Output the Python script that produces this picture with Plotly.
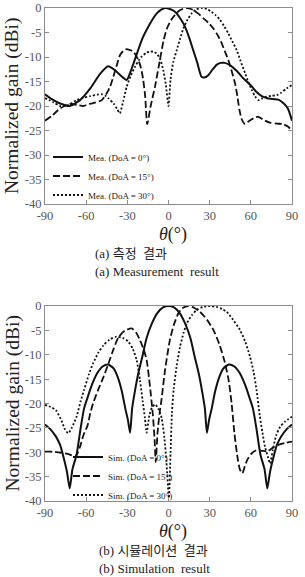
import plotly.graph_objects as go

# ---------------- data ----------------
x_tick_vals = [-90, -60, -30, 0, 30, 60, 90]
x_tick_text = ["-90", "-60", "-30", "0", "30", "60", "90"]
x_minor_top = [-80, -60, -40, -20, 0, 20, 40, 60, 80]
y_tick_vals = [0, -5, -10, -15, -20, -25, -30, -35, -40]
y_tick_text = ["0", "-5", "-10", "-15", "-20", "-25", "-30", "-35", "-40"]

mea0_theta = [-90, -85, -79, -72, -64.5, -57, -50, -44, -39, -34, -30.5, -27, -23, -19, -16, -12, -8.5, -5, -2.5,
              1, 5, 9, 12, 15, 18, 21, 24, 26, 29, 32, 35, 38, 41, 45, 50, 54, 57, 61, 64, 68, 72, 77, 80, 84, 87, 90]
mea0_gain = [-17.6, -18.6, -19.5, -20, -18.8, -16.4, -13.5, -11.9, -12.7, -14, -14.7, -12.5, -9.3, -6.2, -4.5, -2.5, -1.1, -0.3, 0,
             -0.2, -0.8, -2.3, -3.8, -6, -8.6, -11.2, -14, -14.2, -13.7, -12.6, -11.6, -11.2, -11.2, -11.7, -12.9, -14.2, -15, -16.1,
             -17.1, -18, -18.4, -18.6, -18.7, -19.5, -20.5, -23]

mea15_theta = [-90, -85, -79, -72, -66, -62, -58, -54.8, -48.7, -45, -42.5, -40.2, -37.5, -35.3, -33, -30.5, -28, -25.6, -22, -20,
               -18.4, -17, -15.5, -13, -9.8, -6.2, -3.5, -1.3, 2, 4.8, 8, 13, 15, 18.1, 21.5, 25.4, 29, 32.7, 36, 38.8, 41, 43.6,
               46, 48.5, 50.2, 51.7, 53.5, 55.8, 58, 62, 65.5, 69, 74, 79, 83.5, 87, 90]
mea15_gain = [-23, -22, -20.5, -19.6, -19.8, -20, -19.6, -19.4, -18.8, -17.4, -16, -14, -11.5, -9.6, -8.8, -8.4, -8.6, -8.9, -10.6, -12.3,
              -14.7, -18, -23.7, -20, -16, -10.5, -6.5, -4.3, -2.4, -1.4, -0.5, 0, -0.1, -0.4, -1.1, -2.1, -3, -4.2, -5.6, -7.2, -8.8, -10.6,
              -12.8, -15.4, -18, -20.8, -22.8, -23.7, -23.2, -22.5, -22.2, -22.8, -23.4, -23.6, -23.7, -24.2, -25]

mea30_theta = [-90, -84, -79, -73, -67, -62, -57, -52, -48.7, -46, -43.9, -40, -37.5, -35.5, -33, -30.5, -27.5, -24.4, -21.5, -19.5,
               -16, -13.5, -11, -8.6, -6, -3.8, -2, 0, 1.5, 3.5, 6, 8.5, 10.8, 14, 16.9, 20, 24.2, 28, 31.5, 34.5, 37.5, 40.5,
               43.6, 46.5, 49.7, 52.5, 55.8, 58, 60.7, 63, 65.5, 68, 71.6, 75, 78.9, 82, 86.2, 90]
mea30_gain = [-18.4, -19.2, -20, -19.8, -18.8, -18.3, -18, -17.7, -17.6, -17.9, -18.4, -19.5, -20.6, -21.5, -19, -16.1, -13.8, -12, -10.6, -9.9,
              -9.1, -8.9, -8.9, -9.3, -10.5, -12.7, -15.5, -20, -14.5, -11, -8.6, -6.2, -4.2, -2.3, -1.1, -0.3, 0, -0.2, -0.8, -1.5, -2.4, -3.7,
              -5.2, -6.8, -8.6, -10.8, -13.3, -15, -16.7, -18, -18.8, -18.5, -18.1, -17.9, -17.8, -17.3, -16.4, -15.7]

sim0_theta = [-90, -86, -82, -79, -76.5, -74, -72, -70, -67, -64, -61.5, -59, -56, -52, -48, -44, -40, -37, -34, -31.5, -29.5, -28,
              -26.5, -24.5, -22, -19, -16, -12, -8, -4, 0, 4, 8, 12, 16, 19, 22, 24.5, 26.5, 28, 29.5, 31.5, 34, 37, 40, 44, 48, 52,
              56, 59, 61.5, 64, 67, 70, 72, 74, 76.5, 79, 82, 86, 90]
sim0_gain = [-24.3, -25.3, -26.8, -28.5, -31, -34, -37.4, -33.5, -30.5, -25, -21, -18.8, -16.3, -13.8, -12.4, -12, -12.8, -14.6, -17.5, -21, -23.5, -26,
             -21, -17.5, -13.8, -10.3, -6.6, -3.5, -1.4, -0.3, 0, -0.3, -1.4, -3.5, -6.6, -10.3, -13.8, -17.5, -21, -26, -23.5, -21, -17.5, -14.6,
             -12.8, -12, -12.4, -13.8, -16.3, -18.8, -21, -25, -30.5, -33.5, -37.4, -34, -31, -28.5, -26.8, -25.3, -24.3]

sim15_theta = [-90, -84, -78, -74, -70, -68, -66, -64.5, -62, -59, -57, -55, -51, -48, -44, -40, -36.6, -32, -26.8, -23.5, -20.8, -18,
               -15.9, -13.5, -11.5, -10.2, -9.3, -8, -6.5, -5, -2.5, 1, 4, 7.2, 10, 14.4, 19, 23, 28, 32.7, 37, 41, 44, 46, 48, 50,
               52, 53.8, 55.5, 57.5, 60.7, 64, 68, 72, 76.4, 80, 85, 90]
sim15_gain = [-29.9, -29.9, -30.1, -30.3, -30.7, -30.9, -30, -28.9, -26.5, -24.5, -22, -20, -17, -15, -12, -8.8, -6.5, -5.1, -4.6, -5.5, -7, -9,
              -11.1, -16.5, -22, -27, -32, -26, -22, -19, -13.1, -7, -3.8, -1.5, -0.5, 0, -0.4, -1.2, -2.8, -4.9, -7.8, -11.5, -15.5, -20, -26, -30.5,
              -33.5, -34.3, -33, -31.5, -30.2, -29.6, -29.7, -29.8, -29, -28.5, -28.1, -27.8]

sim30_theta = [-90, -86, -82, -78, -75.5, -73, -70.5, -67, -64, -61.5, -58, -55, -51, -47.5, -43, -38, -33, -29.3, -26, -23.2, -20.8,
               -18.8, -17.2, -15.9, -14, -12, -9.8, -7.5, -5, -3, -1.5, 0.3, 1.5, 2.5, 3.8, 6, 8.4, 11, 13.3, 17, 20.6, 25, 30.3,
               35, 39, 42.4, 47, 52.1, 56, 59.4, 62, 64.3, 66.5, 68.5, 70.3, 72.5, 74, 76, 78.5, 81.3, 85, 90]
sim30_gain = [-20.3, -20.7, -21.4, -23.5, -25.3, -26.1, -25, -22.7, -19.5, -17.2, -14, -11.8, -9.5, -8.1, -6.9, -6.3, -6.6, -7.3, -8.8, -11.1, -15.2,
              -19.5, -23, -26, -22.5, -20.8, -20.2, -21, -23, -27, -32, -39.4, -30, -22, -17, -12.2, -8.4, -5.5, -3.6, -1.9, -0.8, -0.2, 0,
              -0.2, -0.6, -1.2, -2.8, -4.9, -7.4, -10.4, -13.5, -17.5, -22.5, -26, -28.9, -31, -32.3, -29.5, -26.5, -24.8, -23.7, -22.7]

# ---------------- figure ----------------
W, H = 305, 577
SERIF = "Liberation Serif, Times New Roman, serif"
KR = "Liberation Serif, Noto Sans CJK KR, serif"
AX = "#8c8c8c"
TXT = "#555555"

def px(v):
    return v / W

def py(v):
    return 1 - v / H

fig = go.Figure()

styles = [("solid", 2.0), ("7px,3px", 1.8), ("2px,2px", 1.8)]
top = [(mea0_theta, mea0_gain, "Mea. (DoA = 0°)"),
       (mea15_theta, mea15_gain, "Mea. (DoA = 15°)"),
       (mea30_theta, mea30_gain, "Mea. (DoA = 30°)")]
bot = [(sim0_theta, sim0_gain, "Sim. (DoA = 0°)"),
       (sim15_theta, sim15_gain, "Sim. (DoA = 15°)"),
       (sim30_theta, sim30_gain, "Sim. (DoA = 30°)")]

for (t, g, name), (dash, w) in zip(top, styles):
    fig.add_trace(go.Scatter(x=t, y=g, mode="lines", name=name, xaxis="x", yaxis="y",
                             line=dict(color="#111111", width=w, dash=dash, shape="spline", smoothing=0.6),
                             legend="legend"))
for (t, g, name), (dash, w) in zip(bot, styles):
    fig.add_trace(go.Scatter(x=t, y=g, mode="lines", name=name, xaxis="x2", yaxis="y2",
                             line=dict(color="#111111", width=w, dash=dash, shape="spline", smoothing=0.6),
                             legend="legend2"))

xdom = [px(45), px(292)]
ydom1 = [py(204), py(8)]
ydom2 = [py(501), py(306)]

def xax(anchor):
    return dict(domain=xdom, range=[-90, 90], tickmode="array", tickvals=x_tick_vals, ticktext=x_tick_text,
                ticks="inside", ticklen=4, tickcolor=AX, showline=True, linecolor=AX, linewidth=1, mirror=True,
                showgrid=False, zeroline=False, anchor=anchor, automargin=False,
                tickfont=dict(family=SERIF, size=12.5, color=TXT))

def yax(dom, anchor):
    return dict(domain=dom, range=[-40, 0], tickmode="array", tickvals=y_tick_vals, ticktext=y_tick_text,
                ticks="inside", ticklen=4, tickcolor=AX, showline=True, linecolor=AX, linewidth=1, mirror="ticks",
                showgrid=False, zeroline=False, anchor=anchor, automargin=False,
                tickfont=dict(family=SERIF, size=12.5, color=TXT))

def topax(over, anchor):
    return dict(overlaying=over, side="top", range=[-90, 90], tickmode="array", tickvals=x_minor_top,
                ticks="inside", ticklen=4, tickcolor=AX, showticklabels=False, showline=False,
                showgrid=False, zeroline=False, anchor=anchor, domain=xdom)

annotations = []
for yc in [106, 403.5]:
    annotations.append(dict(text="Normalized gain (dBi)", x=px(12), y=py(yc), xref="paper", yref="paper",
                            textangle=-90, showarrow=False, xanchor="center", yanchor="middle",
                            font=dict(family=SERIF, size=19.5, color="#222222")))
for yc in [234, 531]:
    annotations.append(dict(text="<i>θ</i>(°)", x=px(173), y=py(yc), xref="paper", yref="paper",
                            showarrow=False, xanchor="center", yanchor="middle",
                            font=dict(family=SERIF, size=18, color="#222222")))
captions = [("(a) 측정  결과", 93, 253), ("(a) Measurement  result", 93, 271),
            ("(b) 시뮬레이션  결과", 97, 550), ("(b) Simulation  result", 97, 568)]
for txt, xl, yc in captions:
    annotations.append(dict(text=txt, x=px(xl), y=py(yc), xref="paper", yref="paper", showarrow=False,
                            xanchor="left", yanchor="middle",
                            font=dict(family=KR, size=13, color="#222222")))

fig.update_layout(
    width=W, height=H, margin=dict(l=0, r=0, t=0, b=0),
    paper_bgcolor="white", plot_bgcolor="white",
    xaxis=xax("y"), yaxis=yax(ydom1, "x"),
    xaxis2=xax("y2"), yaxis2=yax(ydom2, "x2"),
    xaxis3=topax("x", "y"), xaxis4=topax("x2", "y2"),
    showlegend=True,
    legend=dict(x=px(48), y=py(176), xanchor="left", yanchor="middle", bgcolor="rgba(0,0,0,0)",
                font=dict(family=SERIF, size=9, color="#222222"), tracegroupgap=0, itemwidth=30),
    legend2=dict(x=px(68), y=py(476), xanchor="left", yanchor="middle", bgcolor="rgba(0,0,0,0)",
                 font=dict(family=SERIF, size=9, color="#222222"), tracegroupgap=0, itemwidth=30),
    annotations=annotations,
)

fig.write_html("out.html")
